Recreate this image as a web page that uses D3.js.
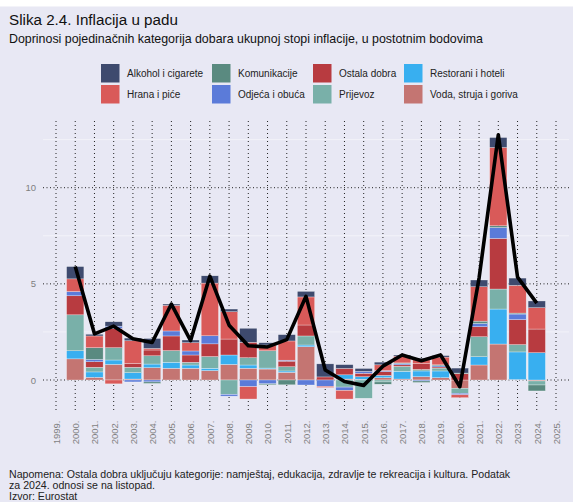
<!DOCTYPE html>
<meta charset="utf-8">
<script src="https://d3js.org/d3.v7.min.js"></script>
<style>
  body { margin: 0; background: #fff; }
  svg text { font-family: "Liberation Sans", Arial, Helvetica, sans-serif; }
</style>
<div id="chart"></div>
<script>
// --- data (doprinosi u postotnim bodovima) ---
const years = [2000, 2001, 2002, 2003, 2004, 2005, 2006, 2007, 2008, 2009, 2010, 2011, 2012,
               2013, 2014, 2015, 2016, 2017, 2018, 2019, 2020, 2021, 2022, 2023, 2024];

const alkohol      = [0.64, 0.09, 0.23, 0.14, 0.52, 0.07, 0.14, 0.38, 0.14, 0.73, 0.12, 0.33, 0.29,
                      0.68, 0.20, 0.15, 0.14, 0.06, 0.08, 0.08, 0.26, 0.35, 0.52, 0.38, 0.35];
const hrana        = [0.66, 0.61, -0.20, 1.18, 0.08, 1.33, 0.43, 2.74, 1.42, -0.64, 0.30, 1.00, 1.46,
                      -0.06, -0.45, 0.00, 0.30, 0.35, 0.20, 0.40, -0.15, 1.79, 4.07, 1.44, 1.11];
const komunikacije = [0.00, 0.61, 0.00, 0.00, -0.08, 0.00, 0.00, 0.00, 0.00, 0.00, -0.05, -0.25, 0.00,
                      0.00, 0.00, 0.00, -0.12, 0.03, -0.08, 0.05, 0.03, 0.12, 0.09, 0.05, -0.31];
const odjeca       = [0.22, 0.12, 0.12, -0.10, -0.10, 0.26, 0.21, 0.42, -0.09, -0.35, -0.20, 0.05, -0.26,
                      -0.33, -0.17, 0.10, 0.05, 0.07, -0.05, 0.06, -0.08, 0.17, 0.57, 0.29, 0.00];
const ostala       = [0.99, 0.29, 1.00, 0.20, 0.30, 0.76, 0.38, 0.66, 0.83, 0.80, 0.00, 0.29, 0.57,
                      0.16, 0.33, 0.18, 0.20, 0.08, 0.30, 0.06, 0.33, 0.52, 2.63, 1.30, 1.23];
const prijevoz     = [1.87, 0.24, 0.64, 0.28, 0.43, 0.61, 0.14, 0.61, -0.75, 0.38, 0.90, 0.22, 0.47,
                      0.00, -0.37, -0.95, -0.10, 0.26, 0.08, 0.15, -0.26, 1.04, 1.04, 0.38, -0.21];
const restorani    = [0.42, 0.28, 0.23, 0.33, 0.19, 0.31, 0.17, 0.12, 0.49, 0.17, 0.05, 0.07, 0.09,
                      0.00, 0.22, 0.14, 0.12, 0.40, 0.30, 0.35, 0.00, 0.43, 1.82, 1.44, 1.42];
const voda         = [1.10, 0.14, 0.81, 0.05, 0.64, 0.61, 0.61, 0.49, 0.81, 0.61, 0.57, 0.40, 1.73,
                      0.00, 0.05, 0.03, 0.12, 0.05, 0.17, 0.12, -0.43, 0.78, 1.87, 0.02, -0.05];

// ukupna stopa inflacije (crna linija)
const ukupno       = [5.90, 2.40, 2.80, 2.15, 1.95, 3.95, 2.05, 5.40, 2.85, 1.78, 1.72, 2.10, 4.35,
                      0.52, -0.08, -0.28, 0.72, 1.30, 1.00, 1.30, -0.35, 5.30, 12.75, 5.35, 4.00];

const xTicks = [1999, 2000, 2001, 2002, 2003, 2004, 2005, 2006, 2007, 2008, 2009, 2010, 2011, 2012,
                2013, 2014, 2015, 2016, 2017, 2018, 2019, 2020, 2021, 2022, 2023, 2024, 2025];
const yTicks = [0, 5, 10];
const yMinor = [2.5, 7.5, 12.5];

// legend order (alphabetical), colours
const series = [
  { key: "Alkohol i cigarete",    values: alkohol,      color: "#3e4a6e" },
  { key: "Hrana i piće",          values: hrana,        color: "#d95a59" },
  { key: "Komunikacije",          values: komunikacije, color: "#5a8a80" },
  { key: "Odjeća i obuća",        values: odjeca,       color: "#5b7bd9" },
  { key: "Ostala dobra",          values: ostala,       color: "#b83b40" },
  { key: "Prijevoz",              values: prijevoz,     color: "#79b0a9" },
  { key: "Restorani i hoteli",    values: restorani,    color: "#38aff0" },
  { key: "Voda, struja i goriva", values: voda,         color: "#c47572" }
];

const W = 573, H = 502;
const panel = { left: 43, right: 569, top: 121, bottom: 412.5 };

const svg = d3.select("#chart").append("svg")
  .attr("width", W).attr("height", H);

svg.append("rect")
  .attr("x", 0).attr("y", 6.5).attr("width", W).attr("height", H - 6.5)
  .attr("fill", "#e8e8f4");

// titles
svg.append("text").attr("x", 9).attr("y", 24.5)
  .style("font-size", "15.2px").attr("fill", "#111")
  .text("Slika 2.4. Inflacija u padu");
svg.append("text").attr("x", 9).attr("y", 42.5)
  .style("font-size", "12.4px").attr("fill", "#111")
  .text("Doprinosi pojedinačnih kategorija dobara ukupnoj stopi inflacije, u postotnim bodovima");

// scales
const x = d3.scaleLinear().domain([1999, 2025]).range([56, 556]);
const y = d3.scaleLinear().domain([0, 10]).range([380, 187.7]);
const barW = (x(2000) - x(1999)) * 0.9;

const color = d3.scaleOrdinal()
  .domain(series.map(d => d.key))
  .range(series.map(d => d.color));

// table
const rows = years.map((yr, i) => {
  const r = { year: yr };
  series.forEach(s => { r[s.key] = s.values[i]; });
  return r;
});

// ggplot-like stacking: first legend item on top
const stackKeys = series.map(d => d.key).slice().reverse();
const stacked = d3.stack().keys(stackKeys).offset(d3.stackOffsetDiverging)(rows);

// minor grid (white)
svg.append("g").selectAll("line").data(yMinor).join("line")
  .attr("x1", panel.left).attr("x2", panel.right)
  .attr("y1", d => y(d)).attr("y2", d => y(d))
  .attr("stroke", "#ffffff").attr("stroke-width", 0.6).attr("stroke-opacity", 0.8);

// major grid (dotted)
svg.append("g").selectAll("line").data(xTicks).join("line")
  .attr("x1", d => x(d)).attr("x2", d => x(d))
  .attr("y1", panel.top).attr("y2", panel.bottom)
  .attr("stroke", "#222").attr("stroke-width", 1)
  .attr("stroke-dasharray", "1,3");
svg.append("g").selectAll("line").data(yTicks).join("line")
  .attr("x1", panel.left).attr("x2", panel.right)
  .attr("y1", d => y(d)).attr("y2", d => y(d))
  .attr("stroke", "#222").attr("stroke-width", 1)
  .attr("stroke-dasharray", "1,2.5");

// bars
svg.append("g").selectAll("g").data(stacked).join("g")
  .attr("fill", d => color(d.key))
  .selectAll("rect").data(d => d).join("rect")
  .attr("x", d => x(d.data.year) - barW / 2)
  .attr("width", barW)
  .attr("y", d => y(Math.max(d[0], d[1])))
  .attr("height", d => Math.abs(y(d[0]) - y(d[1])))
  .attr("stroke", "#ffffff").attr("stroke-width", 0.5).attr("stroke-opacity", 0.6);

// total line
const line = d3.line()
  .x((d, i) => x(years[i]))
  .y(d => y(d));
svg.append("path").datum(ukupno)
  .attr("d", line)
  .attr("fill", "none").attr("stroke", "#000")
  .attr("stroke-width", 3.6).attr("stroke-linejoin", "round").attr("stroke-linecap", "butt");

// y axis
const yAxis = svg.append("g").attr("transform", `translate(${panel.left},0)`)
  .call(d3.axisLeft(y).tickValues(yTicks).tickSize(0).tickPadding(7));
yAxis.select(".domain").remove();
yAxis.selectAll("text").style("font-size", "9.5px").attr("fill", "#7f7f7f");

// x axis
const xAxis = svg.append("g").attr("transform", `translate(0,${panel.bottom})`)
  .call(d3.axisBottom(x).tickValues(xTicks).tickFormat(d => d + ".").tickSize(0));
xAxis.select(".domain").remove();
xAxis.selectAll("text")
  .style("font-size", "9.5px").attr("fill", "#7f7f7f")
  .attr("x", -8).attr("y", 0).attr("dy", "0.35em")
  .attr("transform", "rotate(-90)")
  .style("text-anchor", "end");

// legend: 2 rows, column-major
const legCols = [101, 212, 313, 404];
const legRows = [64, 85];
const keySize = 18.5;
const leg = svg.append("g").selectAll("g").data(series).join("g")
  .attr("transform", (d, i) => `translate(${legCols[Math.floor(i / 2)]},${legRows[i % 2]})`);
leg.append("rect")
  .attr("width", keySize).attr("height", keySize)
  .attr("fill", d => d.color);
leg.append("text")
  .attr("x", 26).attr("y", keySize / 2).attr("dy", "0.35em")
  .style("font-size", "10px").attr("fill", "#222")
  .text(d => d.key);

// footnote
const notes = [
  "Napomena: Ostala dobra uključuju kategorije: namještaj, edukacija, zdravlje te rekreacija i kultura. Podatak",
  "za 2024. odnosi se na listopad.",
  "Izvor: Eurostat"
];
svg.append("g").selectAll("text").data(notes).join("text")
  .attr("x", 9).attr("y", (d, i) => 478 + i * 10.8)
  .style("font-size", "10.6px").attr("fill", "#222")
  .text(d => d);
</script>
